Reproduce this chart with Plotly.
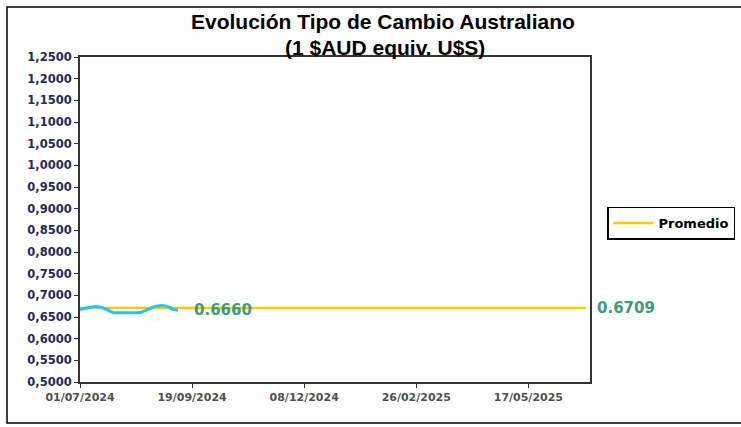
import plotly.graph_objects as go

# Data
fechas = ["2024-07-01", "2024-07-03", "2024-07-08", "2024-07-12", "2024-07-15", "2024-07-18",
          "2024-07-22", "2024-07-25", "2024-07-31", "2024-08-05", "2024-08-12", "2024-08-14",
          "2024-08-19", "2024-08-23", "2024-08-27", "2024-08-30", "2024-09-03", "2024-09-06",
          "2024-09-09"]
tipo_cambio = [0.667, 0.669, 0.672, 0.674, 0.673, 0.670, 0.664, 0.660, 0.660, 0.660, 0.660,
               0.661, 0.668, 0.674, 0.676, 0.676, 0.672, 0.667, 0.666]
promedio_fechas = ["2024-07-01", "2025-06-27"]
promedio_valor = [0.6709, 0.6709]
ultimo_label = "0.6660"
promedio_label = "0.6709"
x_ticks = ["2024-07-01", "2024-09-19", "2024-12-08", "2025-02-26", "2025-05-17"]
x_ticktext = ["01/07/2024", "19/09/2024", "08/12/2024", "26/02/2025", "17/05/2025"]
y_ticks = [0.50 + 0.05 * i for i in range(16)]
y_ticktext = [f"{v:.4f}".replace(".", ",") for v in y_ticks]

W, H = 741, 427
L, R, T, B = 80, 590, 57, 382
pw, ph = R - L, B - T

def px(x):
    return (x - L) / pw

def py(y):
    return (B - y) / ph

fig = go.Figure()
fig.add_trace(go.Scatter(x=promedio_fechas, y=promedio_valor, mode="lines", name="Promedio",
                         line=dict(color="#FFC800", width=2.5), showlegend=True))
fig.add_trace(go.Scatter(x=fechas, y=tipo_cambio, mode="lines", name="Tipo de cambio",
                         line=dict(color="#1EC8F0", width=3, shape="spline", smoothing=0.6),
                         showlegend=False))

green = "#3A9D75"
fig.add_annotation(x="2024-09-19", y=0.6660, text=ultimo_label, showarrow=False, xanchor="left",
                   yanchor="middle",
                   font=dict(family="DejaVu Sans", size=15, color=green, weight="bold"))
fig.add_annotation(x=px(595), xref="paper", y=0.6709, text=promedio_label, showarrow=False,
                   xanchor="left", yanchor="middle",
                   font=dict(family="DejaVu Sans", size=15, color=green, weight="bold"))

fig.add_annotation(x=px(383), xref="paper", y=py(22), yref="paper",
                   text="<b>Evolución Tipo de Cambio Australiano</b>", showarrow=False,
                   xanchor="center", yanchor="middle",
                   font=dict(family="Liberation Sans", size=21, color="#000000"))
fig.add_annotation(x=px(385), xref="paper", y=py(47), yref="paper",
                   text="<b>(1 $AUD equiv. U$S)</b>", showarrow=False,
                   xanchor="center", yanchor="middle",
                   font=dict(family="Liberation Sans", size=21, color="#000000"))

# outer chart border
fig.add_shape(type="rect", xref="paper", yref="paper", x0=px(7), x1=px(760), y0=py(423), y1=py(7),
              line=dict(color="#000000", width=1.5), layer="below")

fig.update_layout(
    width=W, height=H,
    margin=dict(l=L, r=W - R, t=T, b=H - B, autoexpand=False),
    paper_bgcolor="white", plot_bgcolor="white",
    legend=dict(x=px(607), y=py(223), xanchor="left", yanchor="middle",
                bordercolor="#000000", borderwidth=1.5, bgcolor="white",
                font=dict(family="DejaVu Sans", size=13, color="#000000", weight="bold"),
                itemwidth=40),
)
fig.update_xaxes(range=["2024-07-01", "2025-06-30"], tickvals=x_ticks, ticktext=x_ticktext,
                 showgrid=False, zeroline=False, showline=True, linecolor="#333333", linewidth=2,
                 mirror=True, ticks="outside", ticklen=4, tickcolor="#333333", automargin=False,
                 tickfont=dict(family="DejaVu Sans", size=11, color="#505050", weight="bold"))
fig.update_yaxes(range=[0.5, 1.25], tickvals=y_ticks, ticktext=y_ticktext,
                 showgrid=False, zeroline=False, showline=True, linecolor="#333333", linewidth=2,
                 mirror=True, ticks="outside", ticklen=4, tickcolor="#333333", automargin=False,
                 tickfont=dict(family="DejaVu Sans", size=11.5, color="#1F2A5A", weight="bold"))

fig.write_html("out.html", config={"displayModeBar": False},
               post_script="document.body.style.margin='0';")
